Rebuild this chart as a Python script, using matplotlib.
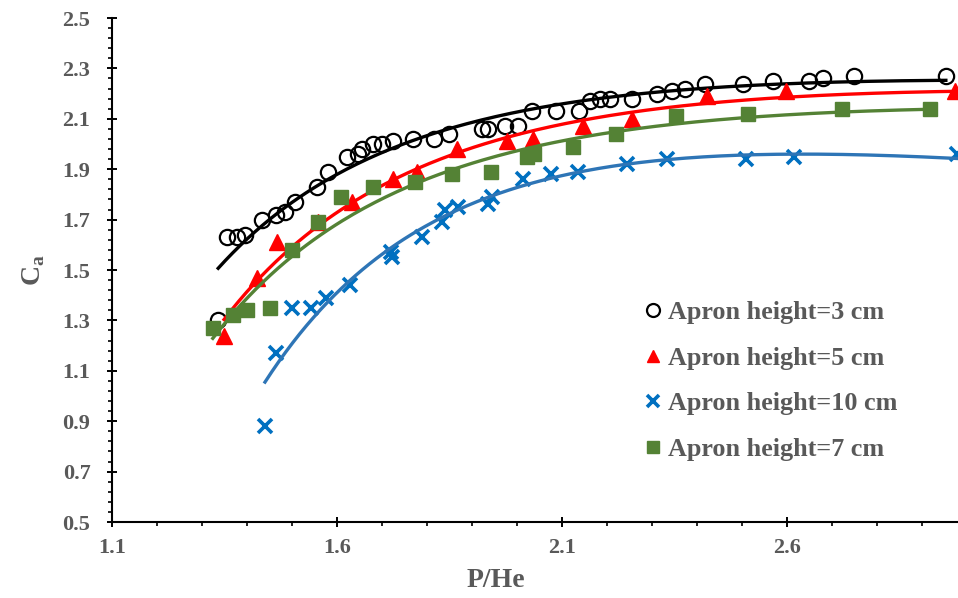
import numpy as np
import matplotlib
matplotlib.use("Agg")
import matplotlib.pyplot as plt

# values
h3_x = [1.336, 1.356, 1.378, 1.396, 1.433, 1.464, 1.484, 1.507, 1.556, 1.580,
        1.622, 1.647, 1.656, 1.680, 1.700, 1.724, 1.769, 1.816, 1.849, 1.922,
        1.936, 1.973, 2.002, 2.033, 2.087, 2.138, 2.162, 2.184, 2.207, 2.256,
        2.311, 2.344, 2.373, 2.418, 2.502, 2.569, 2.649, 2.680, 2.749, 2.953]
h3_y = [1.30, 1.63, 1.63, 1.64, 1.70, 1.72, 1.73, 1.77, 1.83, 1.89,
        1.95, 1.96, 1.98, 2.00, 2.00, 2.01, 2.02, 2.02, 2.04, 2.06,
        2.06, 2.07, 2.07, 2.13, 2.13, 2.13, 2.17, 2.18, 2.18, 2.18,
        2.20, 2.21, 2.22, 2.24, 2.24, 2.25, 2.25, 2.26, 2.27, 2.27]

h5_x = [1.349, 1.422, 1.467, 1.558, 1.633, 1.724, 1.778, 1.867, 1.978, 2.036,
        2.147, 2.256, 2.422, 2.598, 2.973]
h5_y = [1.24, 1.47, 1.61, 1.69, 1.77, 1.86, 1.89, 1.98, 2.01, 2.02,
        2.07, 2.10, 2.19, 2.21, 2.21]

h10_x = [1.440, 1.464, 1.500, 1.542, 1.576, 1.629, 1.720, 1.722, 1.789, 1.833,
         1.840, 1.869, 1.936, 1.944, 2.013, 2.076, 2.136, 2.244, 2.333, 2.509,
         2.616, 2.978]
h10_y = [0.88, 1.17, 1.35, 1.35, 1.39, 1.44, 1.57, 1.55, 1.63, 1.69,
         1.74, 1.75, 1.76, 1.79, 1.86, 1.88, 1.89, 1.92, 1.94, 1.94,
         1.95, 1.96]

h7_x = [1.324, 1.369, 1.400, 1.451, 1.500, 1.558, 1.609, 1.680, 1.773, 1.856,
        1.942, 2.022, 2.038, 2.124, 2.220, 2.353, 2.513, 2.722, 2.918]
h7_y = [1.27, 1.32, 1.34, 1.35, 1.58, 1.69, 1.79, 1.83, 1.85, 1.88,
        1.89, 1.95, 1.96, 1.99, 2.04, 2.11, 2.12, 2.14, 2.14]

labels = ["Apron height=3 cm", "Apron height=5 cm",
          "Apron height=10 cm", "Apron height=7 cm"]

x_ticks = [1.1, 1.6, 2.1, 2.6]
y_ticks = [0.5, 0.7, 0.9, 1.1, 1.3, 1.5, 1.7, 1.9, 2.1, 2.3, 2.5]

grey = "#595959"
plt.rcParams['font.family'] = 'Liberation Serif'
plt.rcParams['font.weight'] = 'bold'
plt.rcParams['mathtext.fontset'] = 'custom'
plt.rcParams['mathtext.bf'] = 'Liberation Serif:bold'

fig = plt.figure(figsize=(9.58, 5.98), dpi=100)
ax = fig.add_axes([112 / 958, 76 / 598, 846 / 958, 504 / 598])

series = [
    (h3_x, h3_y, labels[0], dict(marker="o", ms=11, mfc="none", mec="black", mew=1.6), "black"),
    (h5_x, h5_y, labels[1], dict(marker="^", ms=11, mfc="red", mec="red"), "red"),
    (h10_x, h10_y, labels[2], dict(marker="x", ms=10, mec="#0070C0", mew=2.6), "#2E75B6"),
    (h7_x, h7_y, labels[3], dict(marker="s", ms=10, mfc="#548235", mec="#548235"), "#548235"),
]

for x, y, lab, mk, lcol in series:
    ax.plot(x, y, linestyle="none", label=lab, **mk)
    # trendline: quadratic in 1/x, drawn over the data range
    x = np.asarray(x)
    coef = np.polyfit(1 / x, y, 2)
    xs = np.linspace(x.min(), x.max(), 200)
    ax.plot(xs, np.polyval(coef, 1 / xs), color=lcol, lw=2.4)

ax.set_xlim(1.1, 2.98)
ax.set_ylim(0.5, 2.5)
ax.set_xticks(x_ticks)
ax.set_xticks(np.arange(1.1, 2.99, 0.1), minor=True)
ax.set_yticks(y_ticks)
ax.set_yticks(np.arange(0.5, 2.501, 0.04), minor=True)
ax.set_xticklabels([f"{v:.1f}" for v in x_ticks])
ax.set_yticklabels([f"{v:.1f}" for v in y_ticks])

for s in ["top", "right"]:
    ax.spines[s].set_visible(False)
for s in ["left", "bottom"]:
    ax.spines[s].set_linewidth(1.5)

ax.tick_params(which="major", direction="inout", length=7, width=1.4,
               labelsize=16, labelcolor=grey)
ax.tick_params(axis="x", which="major", pad=8)
ax.tick_params(axis="y", which="major", pad=12)
ax.tick_params(which="minor", direction="out", length=3, width=1.2)

ax.set_xlabel("P/He", fontsize=20, color=grey, fontweight="bold")
ax.set_ylabel(r"C$_{\mathbf{a}}$", fontsize=20, color=grey, fontweight="bold")
ax.xaxis.set_label_coords(0.454, -0.092)
ax.yaxis.set_label_coords(-0.077, 0.5)

leg = ax.legend(loc="center left", bbox_to_anchor=(645 / 958, 1 - 381 / 598),
                bbox_transform=fig.transFigure, frameon=False, fontsize=18.8,
                handlelength=0.6, handletextpad=0.3, labelspacing=0.85,
                borderpad=0, borderaxespad=0, markerscale=0.85)
for t in leg.get_texts():
    t.set_color(grey)

fig.savefig("out.png", dpi=100)
